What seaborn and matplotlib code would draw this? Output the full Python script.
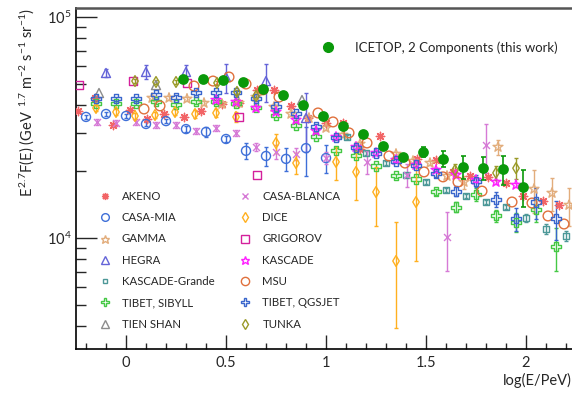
import numpy as np
import matplotlib
matplotlib.use("Agg")
import matplotlib.pyplot as plt
from matplotlib.lines import Line2D
from matplotlib.ticker import LogLocator, NullFormatter, MultipleLocator
import seaborn as sns

# ---------------- data: log10(E/PeV), E^2.7 F(E), relative errors ----------------
icetop_x = [0.285, 0.385, 0.485, 0.585, 0.685, 0.785, 0.885, 0.985, 1.085, 1.185,
            1.285, 1.385, 1.485, 1.585, 1.685, 1.785, 1.885, 1.985]
icetop_y = [52400, 52400, 51900, 50800, 47200, 44400, 40000, 35650, 32100, 29550,
            26100, 23300, 24500, 22800, 20950, 20750, 20500, 17000]
icetop_err = [0.01, 0.01, 0.01, 0.01, 0.01, 0.01, 0.015, 0.015, 0.015, 0.02,
              0.02, 0.03, 0.05, 0.08, 0.12, 0.12, 0.15, 0.19]

akeno_x = [-0.24, -0.155, -0.065, 0.02, 0.105, 0.19, 0.29, 0.375, 0.48, 0.565, 0.655,
           0.74, 0.825, 0.91, 1.0, 1.085, 1.17, 1.27, 1.455, 1.55, 1.635, 1.72, 1.81,
           1.9, 1.985, 2.085, 2.165]
akeno_y = [37550, 43000, 32450, 37950, 34550, 36400, 35300, 37550, 40400, 40800, 46800,
           46800, 39600, 34900, 33100, 33100, 25300, 28900, 22800, 22500, 19900, 19100,
           18900, 17700, 15500, 14700, 14100]

casamia_x = [-0.2, -0.1, 0.0, 0.1, 0.2, 0.3, 0.4, 0.5, 0.6, 0.7, 0.8, 0.9, 1.0]
casamia_y = [35300, 36400, 35650, 32800, 33800, 31100, 30200, 28050, 24800, 23500,
             22800, 25500, 23000]
casamia_err = [0.02, 0.02, 0.02, 0.02, 0.02, 0.03, 0.05, 0.03, 0.08, 0.1, 0.12, 0.25, 0.14]

gamma_x = [0.13, 0.215, 0.305, 0.39, 0.48, 0.565, 0.65, 0.74, 0.825, 0.915, 1.0, 1.085,
           1.17, 1.35, 1.435, 1.52, 1.605, 1.69, 1.86, 2.04, 2.13, 2.215]
gamma_y = [43000, 43000, 42600, 40800, 40400, 40800, 43400, 39150, 36400, 34900, 31460,
           29250, 26630, 24000, 22300, 21840, 19080, 17920, 25800, 16660, 15980, 14100]
gamma_err = [0.02] * 17 + [0.07, 0.08, 0.22, 0.17, 0.2]

hegra_x = [-0.1, 0.1, 0.3, 0.5, 0.7, 0.9]
hegra_y = [55800, 56400, 56400, 53500, 51300, 34900]
hegra_err = [0.04, 0.07, 0.07, 0.15, 0.2, 0.3]

kgrande_x = [1.105, 1.2, 1.3, 1.4, 1.5, 1.6, 1.7, 1.8, 1.9, 2.0, 2.1, 2.2]
kgrande_y = [28640, 24240, 21840, 19280, 17920, 16490, 15490, 14550, 13810, 12300,
             10980, 10210]
kgrande_err = [0.02] * 9 + [0.04, 0.05, 0.05]

tibet_x = [-0.15, -0.05, 0.05, 0.15, 0.25, 0.35, 0.45, 0.55, 0.65, 0.75, 0.85, 0.95,
           1.05, 1.15, 1.25, 1.35, 1.45, 1.55, 1.65, 1.75, 1.85, 1.95, 2.05, 2.15]
sibyll_y = [40800, 40800, 40800, 41250, 40000, 41250, 41250, 40800, 38750, 36000, 32450,
            28900, 25000, 23740, 21170, 19080, 18490, 16150, 13810, 15810, 12580, 11810,
            13390, 9110]
sibyll_err = [0.02] * 17 + [0.03, 0.05, 0.07, 0.06, 0.1, 0.12, 0.22]
qgsjet_y = [42600, 42600, 42600, 44400, 43400, 45300, 45300, 45300, 42600, 39150, 36400,
            32100, 28350, 25800, 24240, 22300, 21390, 19500, 16300, 18100, 15000, 12200,
            14550, 12300]
qgsjet_err = [0.02] * 17 + [0.03, 0.05, 0.06, 0.08, 0.12, 0.16, 0.2]

tienshan_x = [-0.135, 0.15, 0.88]
tienshan_y = [45300, 49200, 42100]

casablanca_x = [-0.145, -0.05, 0.05, 0.15, 0.25, 0.35, 0.45, 0.55, 0.65, 0.75, 0.85, 1.0,
                1.205, 1.405, 1.605, 1.8]
casablanca_y = [33500, 33100, 33500, 32450, 32450, 30500, 31500, 29900, 25800, 24500,
                24000, 23000, 22100, 19280, 10100, 26350]
casablanca_err = [0.03] * 8 + [0.04, 0.07, 0.06, 0.06, 0.12, 0.12, 0.3, 0.25]

dice_x = [-0.15, -0.05, 0.045, 0.145, 0.245, 0.345, 0.45, 0.55, 0.75, 0.85, 1.05, 1.15,
          1.25, 1.35, 1.45]
dice_y = [38750, 37160, 35650, 36000, 37160, 36400, 36780, 35300, 26910, 21840, 22100,
          19900, 16150, 7870, 14550]
dice_err = [0.03, 0.03, 0.03, 0.03, 0.03, 0.04, 0.045, 0.05, 0.1, 0.11, 0.17, 0.25, 0.3,
            0.5, 0.46]

grigorov_x = [-0.235, 0.035, 0.305, 0.565, 0.655]
grigorov_y = [49200, 51300, 50300, 35300, 19280]

kascade_x = [0.45, 0.55, 0.65, 0.75, 0.85, 0.95, 1.05, 1.15, 1.25, 1.35, 1.45, 1.55,
             1.65, 1.75, 1.85, 1.95]
kascade_y = [42100, 41250, 38750, 37160, 34200, 30500, 28640, 25800, 24240, 22540,
             21390, 20300, 19280, 18300, 17920, 17370]
kascade_err = [0.02] * 16

msu_x = [0.09, 0.17, 0.34, 0.435, 0.515, 0.6, 0.685, 0.765, 0.96, 1.035, 1.115, 1.205,
         1.315, 1.395, 1.49, 1.585, 1.66, 1.78, 1.93, 2.03, 2.11, 2.19]
msu_y = [38340, 39600, 48700, 51300, 53500, 49750, 46800, 43400, 36780, 33500, 29900,
         26910, 23500, 21840, 19900, 18900, 17920, 16300, 14550, 14400, 12580, 11570]

tunka_x = [0.045, 0.15, 0.25, 0.455, 0.555, 0.65, 1.645, 1.85, 1.95]
tunka_y = [51300, 50800, 50800, 50300, 45800, 43900, 20300, 19700, 20700]
tunka_err = [0.02] * 6 + [0.06, 0.075, 0.11]

# ---------------- style ----------------
sns.set_style("ticks")
plt.rcParams["font.family"] = ["Lato", "DejaVu Sans"]
plt.rcParams["mathtext.fontset"] = "custom"
plt.rcParams["mathtext.rm"] = "Lato"
plt.rcParams["mathtext.it"] = "Lato:italic"

ASTER = (8, 2, 0)
# name, x, y, err, colour, marker, size(pt), open-face
series = [
    ("AKENO", akeno_x, akeno_y, None, "#f26466", ASTER, 6, False),
    ("CASA-MIA", casamia_x, casamia_y, casamia_err, "#3e6fd8", "o", 6.5, True),
    ("GAMMA", gamma_x, gamma_y, gamma_err, "#e2ad7c", "*", 7.5, True),
    ("HEGRA", hegra_x, hegra_y, hegra_err, "#6464d8", "^", 6.5, True),
    ("KASCADE-Grande", kgrande_x, kgrande_y, kgrande_err, "#4d9898", "s", 4, True),
    ("TIBET, SIBYLL", tibet_x, sibyll_y, sibyll_err, "#45c845", "P", 6.5, True),
    ("TIEN SHAN", tienshan_x, tienshan_y, None, "#8c8c8c", "^", 6.5, True),
    ("CASA-BLANCA", casablanca_x, casablanca_y, casablanca_err, "#d67ad6", "x", 5, False),
    ("DICE", dice_x, dice_y, dice_err, "#ffb020", "d", 5.5, True),
    ("GRIGOROV", grigorov_x, grigorov_y, None, "#d4209c", "s", 6, True),
    ("KASCADE", kascade_x, kascade_y, kascade_err, "#ff20ff", "*", 7.5, True),
    ("MSU", msu_x, msu_y, None, "#e0703c", "o", 7, True),
    ("TIBET, QGSJET", tibet_x, qgsjet_y, qgsjet_err, "#3a66cc", "P", 6.5, True),
    ("TUNKA", tunka_x, tunka_y, tunka_err, "#9a9a28", "d", 5.5, True),
]

fig = plt.figure(figsize=(5.72, 3.96), dpi=100)
ax = fig.add_axes([76 / 572, 1 - 349 / 396, 1 - 76 / 572, (349 - 8) / 396])
ax.set_yscale("log")


def draw(name, x, y, err, color, marker, ms, openface, lw=1.0):
    x = np.asarray(x, float)
    y = np.asarray(y, float)
    if err is not None:
        ax.errorbar(x, y, yerr=y * np.asarray(err), fmt="none", ecolor=color,
                    elinewidth=1.0, capsize=1.5, capthick=1.0, zorder=2)
    kw = dict(x=x, y=y, ax=ax, marker=marker, s=ms ** 2, linewidth=lw, zorder=3,
              legend=False)
    if openface:
        sns.scatterplot(facecolor="none", edgecolor=color, **kw)
    else:
        sns.scatterplot(color=color, **kw)


handles = []
for name, x, y, err, color, marker, ms, openface in series:
    draw(name, x, y, err, color, marker, ms, openface)
    h = Line2D([], [], linestyle="none", marker=marker, markersize=ms * 0.85,
               markeredgecolor=color, markeredgewidth=1.0,
               markerfacecolor="none" if openface else color)
    handles.append((h, name))

# IceTop points on top of everything
ice_col = "#0a990a"
ix = np.asarray(icetop_x)
iy = np.asarray(icetop_y)
ax.errorbar(ix, iy, yerr=iy * np.asarray(icetop_err), fmt="none", ecolor=ice_col,
            elinewidth=1.2, capsize=1.8, capthick=1.2, zorder=4)
sns.scatterplot(x=ix, y=iy, ax=ax, color=ice_col, marker="o", s=60, linewidth=0,
                zorder=5, legend=False)

# ---------------- axes ----------------
ax.set_xlim(-0.25, 2.23)
ax.set_ylim(3146, 109800)
ax.xaxis.set_minor_locator(MultipleLocator(0.1))
ax.set_xticks([0, 0.5, 1, 1.5, 2])
ax.set_xticklabels(["0", "0.5", "1", "1.5", "2"])
ax.yaxis.set_major_locator(LogLocator(base=10))
ax.yaxis.set_minor_locator(LogLocator(base=10, subs=np.arange(2, 10)))
ax.yaxis.set_minor_formatter(NullFormatter())
ax.tick_params(axis="x", which="major", direction="in", length=10, width=1,
               labelsize=10.5, pad=5)
ax.tick_params(axis="x", which="minor", direction="in", length=4.5, width=1)
ax.tick_params(axis="y", which="major", direction="in", length=15, width=1,
               labelsize=10.5, pad=3)
ax.tick_params(axis="y", which="minor", direction="in", length=7.5, width=1)

for side in ("left", "bottom"):
    ax.spines[side].set_linewidth(1.2)
    ax.spines[side].set_color("black")
ax.spines["top"].set_color("#555555")
ax.spines["top"].set_linewidth(1.8)
ax.spines["right"].set_visible(False)

ax.set_xlabel("log(E/PeV)", fontsize=10.5, loc="right", labelpad=2)
ax.set_ylabel(r"E$^{\,2.7}$F(E) (GeV $^{\,1.7}$ m$^{-2}$ s$^{-1}$ sr$^{-1}$)",
              fontsize=10.5, loc="top", labelpad=8)

# ---------------- legends ----------------
leg1 = ax.legend([h for h, _ in handles], [n for _, n in handles], ncol=2,
                 loc="upper left", bbox_to_anchor=(99 / 572, 1 - 191 / 396),
                 bbox_transform=fig.transFigure, frameon=False, fontsize=8.2,
                 handlelength=1.0, handletextpad=1.0, columnspacing=2.2,
                 labelspacing=0.9, borderpad=0, borderaxespad=0)
ax.add_artist(leg1)
ice_handle = Line2D([], [], linestyle="none", marker="o", markersize=7,
                    markerfacecolor=ice_col, markeredgecolor=ice_col)
ax.legend([ice_handle], ["ICETOP, 2 Components (this work)"], loc="upper left",
          bbox_to_anchor=(321 / 572, 1 - 41 / 396), bbox_transform=fig.transFigure,
          frameon=False, fontsize=9.5, handlelength=1.0, handletextpad=1.6,
          borderpad=0, borderaxespad=0)

fig.savefig("out.png", dpi=100)
